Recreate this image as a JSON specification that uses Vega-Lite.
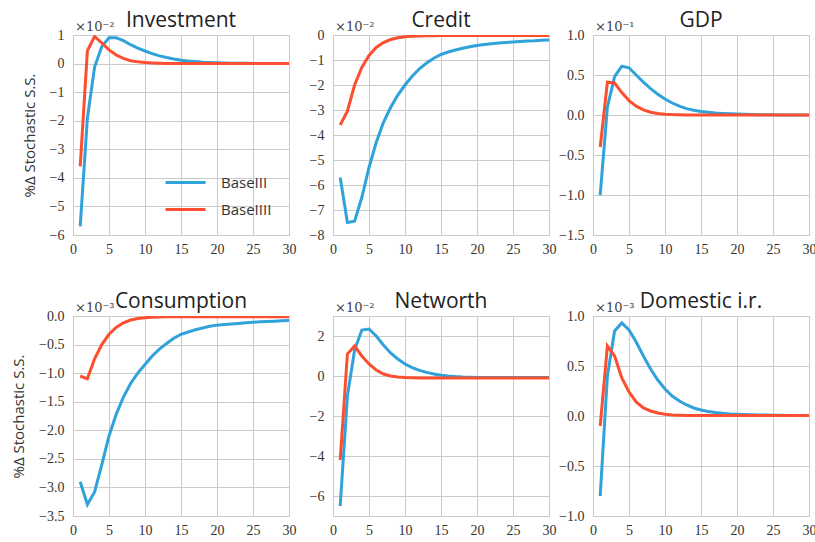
{
  "$schema": "https://vega.github.io/schema/vega-lite/v6.json",
  "padding": {"left": 11, "top": 9, "right": 5, "bottom": 2},
  "background": "white",
  "datasets": {
    "irf": [
      {"panel":"Investment","series":"BaseIII","t":1,"v":-5.7},{"panel":"Investment","series":"BaseIII","t":2,"v":-1.9},{"panel":"Investment","series":"BaseIII","t":3,"v":-0.12},{"panel":"Investment","series":"BaseIII","t":4,"v":0.6},{"panel":"Investment","series":"BaseIII","t":5,"v":0.9},{"panel":"Investment","series":"BaseIII","t":6,"v":0.9},{"panel":"Investment","series":"BaseIII","t":7,"v":0.8},{"panel":"Investment","series":"BaseIII","t":8,"v":0.66},{"panel":"Investment","series":"BaseIII","t":9,"v":0.54},{"panel":"Investment","series":"BaseIII","t":10,"v":0.44},{"panel":"Investment","series":"BaseIII","t":11,"v":0.35},{"panel":"Investment","series":"BaseIII","t":12,"v":0.27},{"panel":"Investment","series":"BaseIII","t":13,"v":0.21},{"panel":"Investment","series":"BaseIII","t":14,"v":0.16},{"panel":"Investment","series":"BaseIII","t":15,"v":0.12},{"panel":"Investment","series":"BaseIII","t":16,"v":0.09},{"panel":"Investment","series":"BaseIII","t":17,"v":0.07},{"panel":"Investment","series":"BaseIII","t":18,"v":0.05},{"panel":"Investment","series":"BaseIII","t":19,"v":0.04},{"panel":"Investment","series":"BaseIII","t":20,"v":0.03},{"panel":"Investment","series":"BaseIII","t":21,"v":0.02},{"panel":"Investment","series":"BaseIII","t":22,"v":0.015},{"panel":"Investment","series":"BaseIII","t":23,"v":0.01},{"panel":"Investment","series":"BaseIII","t":24,"v":0.008},{"panel":"Investment","series":"BaseIII","t":25,"v":0.006},{"panel":"Investment","series":"BaseIII","t":26,"v":0.004},{"panel":"Investment","series":"BaseIII","t":27,"v":0.003},{"panel":"Investment","series":"BaseIII","t":28,"v":0.002},{"panel":"Investment","series":"BaseIII","t":29,"v":0.001},{"panel":"Investment","series":"BaseIII","t":30,"v":0.0},
      {"panel":"Investment","series":"BaseIIII","t":1,"v":-3.6},{"panel":"Investment","series":"BaseIIII","t":2,"v":0.45},{"panel":"Investment","series":"BaseIIII","t":3,"v":0.95},{"panel":"Investment","series":"BaseIIII","t":4,"v":0.72},{"panel":"Investment","series":"BaseIIII","t":5,"v":0.48},{"panel":"Investment","series":"BaseIIII","t":6,"v":0.3},{"panel":"Investment","series":"BaseIIII","t":7,"v":0.18},{"panel":"Investment","series":"BaseIIII","t":8,"v":0.1},{"panel":"Investment","series":"BaseIIII","t":9,"v":0.06},{"panel":"Investment","series":"BaseIIII","t":10,"v":0.035},{"panel":"Investment","series":"BaseIIII","t":11,"v":0.02},{"panel":"Investment","series":"BaseIIII","t":12,"v":0.01},{"panel":"Investment","series":"BaseIIII","t":13,"v":0.005},{"panel":"Investment","series":"BaseIIII","t":14,"v":0.0},{"panel":"Investment","series":"BaseIIII","t":15,"v":0.0},{"panel":"Investment","series":"BaseIIII","t":16,"v":0.0},{"panel":"Investment","series":"BaseIIII","t":17,"v":0.0},{"panel":"Investment","series":"BaseIIII","t":18,"v":0.0},{"panel":"Investment","series":"BaseIIII","t":19,"v":0.0},{"panel":"Investment","series":"BaseIIII","t":20,"v":0.0},{"panel":"Investment","series":"BaseIIII","t":21,"v":0.0},{"panel":"Investment","series":"BaseIIII","t":22,"v":0.0},{"panel":"Investment","series":"BaseIIII","t":23,"v":0.0},{"panel":"Investment","series":"BaseIIII","t":24,"v":0.0},{"panel":"Investment","series":"BaseIIII","t":25,"v":0.0},{"panel":"Investment","series":"BaseIIII","t":26,"v":0.0},{"panel":"Investment","series":"BaseIIII","t":27,"v":0.0},{"panel":"Investment","series":"BaseIIII","t":28,"v":0.0},{"panel":"Investment","series":"BaseIIII","t":29,"v":0.0},{"panel":"Investment","series":"BaseIIII","t":30,"v":0.0},

      {"panel":"Credit","series":"BaseIII","t":1,"v":-5.7},{"panel":"Credit","series":"BaseIII","t":2,"v":-7.5},{"panel":"Credit","series":"BaseIII","t":3,"v":-7.45},{"panel":"Credit","series":"BaseIII","t":4,"v":-6.5},{"panel":"Credit","series":"BaseIII","t":5,"v":-5.3},{"panel":"Credit","series":"BaseIII","t":6,"v":-4.3},{"panel":"Credit","series":"BaseIII","t":7,"v":-3.5},{"panel":"Credit","series":"BaseIII","t":8,"v":-2.9},{"panel":"Credit","series":"BaseIII","t":9,"v":-2.4},{"panel":"Credit","series":"BaseIII","t":10,"v":-2.0},{"panel":"Credit","series":"BaseIII","t":11,"v":-1.65},{"panel":"Credit","series":"BaseIII","t":12,"v":-1.35},{"panel":"Credit","series":"BaseIII","t":13,"v":-1.12},{"panel":"Credit","series":"BaseIII","t":14,"v":-0.93},{"panel":"Credit","series":"BaseIII","t":15,"v":-0.78},{"panel":"Credit","series":"BaseIII","t":16,"v":-0.68},{"panel":"Credit","series":"BaseIII","t":17,"v":-0.6},{"panel":"Credit","series":"BaseIII","t":18,"v":-0.53},{"panel":"Credit","series":"BaseIII","t":19,"v":-0.47},{"panel":"Credit","series":"BaseIII","t":20,"v":-0.42},{"panel":"Credit","series":"BaseIII","t":21,"v":-0.38},{"panel":"Credit","series":"BaseIII","t":22,"v":-0.35},{"panel":"Credit","series":"BaseIII","t":23,"v":-0.32},{"panel":"Credit","series":"BaseIII","t":24,"v":-0.3},{"panel":"Credit","series":"BaseIII","t":25,"v":-0.28},{"panel":"Credit","series":"BaseIII","t":26,"v":-0.26},{"panel":"Credit","series":"BaseIII","t":27,"v":-0.24},{"panel":"Credit","series":"BaseIII","t":28,"v":-0.23},{"panel":"Credit","series":"BaseIII","t":29,"v":-0.21},{"panel":"Credit","series":"BaseIII","t":30,"v":-0.2},
      {"panel":"Credit","series":"BaseIIII","t":1,"v":-3.6},{"panel":"Credit","series":"BaseIIII","t":2,"v":-3.05},{"panel":"Credit","series":"BaseIIII","t":3,"v":-2.0},{"panel":"Credit","series":"BaseIIII","t":4,"v":-1.3},{"panel":"Credit","series":"BaseIIII","t":5,"v":-0.82},{"panel":"Credit","series":"BaseIIII","t":6,"v":-0.5},{"panel":"Credit","series":"BaseIIII","t":7,"v":-0.3},{"panel":"Credit","series":"BaseIIII","t":8,"v":-0.18},{"panel":"Credit","series":"BaseIIII","t":9,"v":-0.11},{"panel":"Credit","series":"BaseIIII","t":10,"v":-0.07},{"panel":"Credit","series":"BaseIIII","t":11,"v":-0.05},{"panel":"Credit","series":"BaseIIII","t":12,"v":-0.04},{"panel":"Credit","series":"BaseIIII","t":13,"v":-0.03},{"panel":"Credit","series":"BaseIIII","t":14,"v":-0.03},{"panel":"Credit","series":"BaseIIII","t":15,"v":-0.025},{"panel":"Credit","series":"BaseIIII","t":16,"v":-0.02},{"panel":"Credit","series":"BaseIIII","t":17,"v":-0.02},{"panel":"Credit","series":"BaseIIII","t":18,"v":-0.02},{"panel":"Credit","series":"BaseIIII","t":19,"v":-0.02},{"panel":"Credit","series":"BaseIIII","t":20,"v":-0.02},{"panel":"Credit","series":"BaseIIII","t":21,"v":-0.02},{"panel":"Credit","series":"BaseIIII","t":22,"v":-0.02},{"panel":"Credit","series":"BaseIIII","t":23,"v":-0.02},{"panel":"Credit","series":"BaseIIII","t":24,"v":-0.02},{"panel":"Credit","series":"BaseIIII","t":25,"v":-0.02},{"panel":"Credit","series":"BaseIIII","t":26,"v":-0.02},{"panel":"Credit","series":"BaseIIII","t":27,"v":-0.02},{"panel":"Credit","series":"BaseIIII","t":28,"v":-0.02},{"panel":"Credit","series":"BaseIIII","t":29,"v":-0.02},{"panel":"Credit","series":"BaseIIII","t":30,"v":-0.02},

      {"panel":"GDP","series":"BaseIII","t":1,"v":-1.0},{"panel":"GDP","series":"BaseIII","t":2,"v":0.1},{"panel":"GDP","series":"BaseIII","t":3,"v":0.48},{"panel":"GDP","series":"BaseIII","t":4,"v":0.61},{"panel":"GDP","series":"BaseIII","t":5,"v":0.59},{"panel":"GDP","series":"BaseIII","t":6,"v":0.5},{"panel":"GDP","series":"BaseIII","t":7,"v":0.41},{"panel":"GDP","series":"BaseIII","t":8,"v":0.33},{"panel":"GDP","series":"BaseIII","t":9,"v":0.26},{"panel":"GDP","series":"BaseIII","t":10,"v":0.2},{"panel":"GDP","series":"BaseIII","t":11,"v":0.15},{"panel":"GDP","series":"BaseIII","t":12,"v":0.11},{"panel":"GDP","series":"BaseIII","t":13,"v":0.08},{"panel":"GDP","series":"BaseIII","t":14,"v":0.06},{"panel":"GDP","series":"BaseIII","t":15,"v":0.045},{"panel":"GDP","series":"BaseIII","t":16,"v":0.035},{"panel":"GDP","series":"BaseIII","t":17,"v":0.026},{"panel":"GDP","series":"BaseIII","t":18,"v":0.02},{"panel":"GDP","series":"BaseIII","t":19,"v":0.015},{"panel":"GDP","series":"BaseIII","t":20,"v":0.011},{"panel":"GDP","series":"BaseIII","t":21,"v":0.008},{"panel":"GDP","series":"BaseIII","t":22,"v":0.006},{"panel":"GDP","series":"BaseIII","t":23,"v":0.004},{"panel":"GDP","series":"BaseIII","t":24,"v":0.003},{"panel":"GDP","series":"BaseIII","t":25,"v":0.002},{"panel":"GDP","series":"BaseIII","t":26,"v":0.001},{"panel":"GDP","series":"BaseIII","t":27,"v":0.001},{"panel":"GDP","series":"BaseIII","t":28,"v":0.0},{"panel":"GDP","series":"BaseIII","t":29,"v":0.0},{"panel":"GDP","series":"BaseIII","t":30,"v":0.0},
      {"panel":"GDP","series":"BaseIIII","t":1,"v":-0.4},{"panel":"GDP","series":"BaseIIII","t":2,"v":0.41},{"panel":"GDP","series":"BaseIIII","t":3,"v":0.4},{"panel":"GDP","series":"BaseIIII","t":4,"v":0.28},{"panel":"GDP","series":"BaseIIII","t":5,"v":0.18},{"panel":"GDP","series":"BaseIIII","t":6,"v":0.11},{"panel":"GDP","series":"BaseIIII","t":7,"v":0.065},{"panel":"GDP","series":"BaseIIII","t":8,"v":0.035},{"panel":"GDP","series":"BaseIIII","t":9,"v":0.02},{"panel":"GDP","series":"BaseIIII","t":10,"v":0.01},{"panel":"GDP","series":"BaseIIII","t":11,"v":0.005},{"panel":"GDP","series":"BaseIIII","t":12,"v":0.002},{"panel":"GDP","series":"BaseIIII","t":13,"v":0.0},{"panel":"GDP","series":"BaseIIII","t":14,"v":0.0},{"panel":"GDP","series":"BaseIIII","t":15,"v":0.0},{"panel":"GDP","series":"BaseIIII","t":16,"v":0.0},{"panel":"GDP","series":"BaseIIII","t":17,"v":0.0},{"panel":"GDP","series":"BaseIIII","t":18,"v":0.0},{"panel":"GDP","series":"BaseIIII","t":19,"v":0.0},{"panel":"GDP","series":"BaseIIII","t":20,"v":0.0},{"panel":"GDP","series":"BaseIIII","t":21,"v":0.0},{"panel":"GDP","series":"BaseIIII","t":22,"v":0.0},{"panel":"GDP","series":"BaseIIII","t":23,"v":0.0},{"panel":"GDP","series":"BaseIIII","t":24,"v":0.0},{"panel":"GDP","series":"BaseIIII","t":25,"v":0.0},{"panel":"GDP","series":"BaseIIII","t":26,"v":0.0},{"panel":"GDP","series":"BaseIIII","t":27,"v":0.0},{"panel":"GDP","series":"BaseIIII","t":28,"v":0.0},{"panel":"GDP","series":"BaseIIII","t":29,"v":0.0},{"panel":"GDP","series":"BaseIIII","t":30,"v":0.0},

      {"panel":"Consumption","series":"BaseIII","t":1,"v":-2.9},{"panel":"Consumption","series":"BaseIII","t":2,"v":-3.3},{"panel":"Consumption","series":"BaseIII","t":3,"v":-3.08},{"panel":"Consumption","series":"BaseIII","t":4,"v":-2.6},{"panel":"Consumption","series":"BaseIII","t":5,"v":-2.1},{"panel":"Consumption","series":"BaseIII","t":6,"v":-1.72},{"panel":"Consumption","series":"BaseIII","t":7,"v":-1.42},{"panel":"Consumption","series":"BaseIII","t":8,"v":-1.18},{"panel":"Consumption","series":"BaseIII","t":9,"v":-1.0},{"panel":"Consumption","series":"BaseIII","t":10,"v":-0.85},{"panel":"Consumption","series":"BaseIII","t":11,"v":-0.7},{"panel":"Consumption","series":"BaseIII","t":12,"v":-0.58},{"panel":"Consumption","series":"BaseIII","t":13,"v":-0.48},{"panel":"Consumption","series":"BaseIII","t":14,"v":-0.39},{"panel":"Consumption","series":"BaseIII","t":15,"v":-0.32},{"panel":"Consumption","series":"BaseIII","t":16,"v":-0.28},{"panel":"Consumption","series":"BaseIII","t":17,"v":-0.24},{"panel":"Consumption","series":"BaseIII","t":18,"v":-0.21},{"panel":"Consumption","series":"BaseIII","t":19,"v":-0.18},{"panel":"Consumption","series":"BaseIII","t":20,"v":-0.16},{"panel":"Consumption","series":"BaseIII","t":21,"v":-0.15},{"panel":"Consumption","series":"BaseIII","t":22,"v":-0.14},{"panel":"Consumption","series":"BaseIII","t":23,"v":-0.13},{"panel":"Consumption","series":"BaseIII","t":24,"v":-0.12},{"panel":"Consumption","series":"BaseIII","t":25,"v":-0.11},{"panel":"Consumption","series":"BaseIII","t":26,"v":-0.1},{"panel":"Consumption","series":"BaseIII","t":27,"v":-0.095},{"panel":"Consumption","series":"BaseIII","t":28,"v":-0.09},{"panel":"Consumption","series":"BaseIII","t":29,"v":-0.085},{"panel":"Consumption","series":"BaseIII","t":30,"v":-0.08},
      {"panel":"Consumption","series":"BaseIIII","t":1,"v":-1.05},{"panel":"Consumption","series":"BaseIIII","t":2,"v":-1.1},{"panel":"Consumption","series":"BaseIIII","t":3,"v":-0.75},{"panel":"Consumption","series":"BaseIIII","t":4,"v":-0.5},{"panel":"Consumption","series":"BaseIIII","t":5,"v":-0.32},{"panel":"Consumption","series":"BaseIIII","t":6,"v":-0.2},{"panel":"Consumption","series":"BaseIIII","t":7,"v":-0.12},{"panel":"Consumption","series":"BaseIIII","t":8,"v":-0.07},{"panel":"Consumption","series":"BaseIIII","t":9,"v":-0.045},{"panel":"Consumption","series":"BaseIIII","t":10,"v":-0.03},{"panel":"Consumption","series":"BaseIIII","t":11,"v":-0.02},{"panel":"Consumption","series":"BaseIIII","t":12,"v":-0.016},{"panel":"Consumption","series":"BaseIIII","t":13,"v":-0.015},{"panel":"Consumption","series":"BaseIIII","t":14,"v":-0.015},{"panel":"Consumption","series":"BaseIIII","t":15,"v":-0.015},{"panel":"Consumption","series":"BaseIIII","t":16,"v":-0.015},{"panel":"Consumption","series":"BaseIIII","t":17,"v":-0.015},{"panel":"Consumption","series":"BaseIIII","t":18,"v":-0.015},{"panel":"Consumption","series":"BaseIIII","t":19,"v":-0.015},{"panel":"Consumption","series":"BaseIIII","t":20,"v":-0.015},{"panel":"Consumption","series":"BaseIIII","t":21,"v":-0.015},{"panel":"Consumption","series":"BaseIIII","t":22,"v":-0.015},{"panel":"Consumption","series":"BaseIIII","t":23,"v":-0.015},{"panel":"Consumption","series":"BaseIIII","t":24,"v":-0.015},{"panel":"Consumption","series":"BaseIIII","t":25,"v":-0.015},{"panel":"Consumption","series":"BaseIIII","t":26,"v":-0.015},{"panel":"Consumption","series":"BaseIIII","t":27,"v":-0.015},{"panel":"Consumption","series":"BaseIIII","t":28,"v":-0.015},{"panel":"Consumption","series":"BaseIIII","t":29,"v":-0.015},{"panel":"Consumption","series":"BaseIIII","t":30,"v":-0.015},

      {"panel":"Networth","series":"BaseIII","t":1,"v":-6.5},{"panel":"Networth","series":"BaseIII","t":2,"v":-1.0},{"panel":"Networth","series":"BaseIII","t":3,"v":1.3},{"panel":"Networth","series":"BaseIII","t":4,"v":2.3},{"panel":"Networth","series":"BaseIII","t":5,"v":2.35},{"panel":"Networth","series":"BaseIII","t":6,"v":2.0},{"panel":"Networth","series":"BaseIII","t":7,"v":1.55},{"panel":"Networth","series":"BaseIII","t":8,"v":1.15},{"panel":"Networth","series":"BaseIII","t":9,"v":0.85},{"panel":"Networth","series":"BaseIII","t":10,"v":0.6},{"panel":"Networth","series":"BaseIII","t":11,"v":0.42},{"panel":"Networth","series":"BaseIII","t":12,"v":0.28},{"panel":"Networth","series":"BaseIII","t":13,"v":0.18},{"panel":"Networth","series":"BaseIII","t":14,"v":0.1},{"panel":"Networth","series":"BaseIII","t":15,"v":0.04},{"panel":"Networth","series":"BaseIII","t":16,"v":0.0},{"panel":"Networth","series":"BaseIII","t":17,"v":-0.03},{"panel":"Networth","series":"BaseIII","t":18,"v":-0.05},{"panel":"Networth","series":"BaseIII","t":19,"v":-0.06},{"panel":"Networth","series":"BaseIII","t":20,"v":-0.07},{"panel":"Networth","series":"BaseIII","t":21,"v":-0.08},{"panel":"Networth","series":"BaseIII","t":22,"v":-0.08},{"panel":"Networth","series":"BaseIII","t":23,"v":-0.08},{"panel":"Networth","series":"BaseIII","t":24,"v":-0.08},{"panel":"Networth","series":"BaseIII","t":25,"v":-0.08},{"panel":"Networth","series":"BaseIII","t":26,"v":-0.08},{"panel":"Networth","series":"BaseIII","t":27,"v":-0.08},{"panel":"Networth","series":"BaseIII","t":28,"v":-0.08},{"panel":"Networth","series":"BaseIII","t":29,"v":-0.08},{"panel":"Networth","series":"BaseIII","t":30,"v":-0.08},
      {"panel":"Networth","series":"BaseIIII","t":1,"v":-4.2},{"panel":"Networth","series":"BaseIIII","t":2,"v":1.1},{"panel":"Networth","series":"BaseIIII","t":3,"v":1.5},{"panel":"Networth","series":"BaseIIII","t":4,"v":1.0},{"panel":"Networth","series":"BaseIIII","t":5,"v":0.6},{"panel":"Networth","series":"BaseIIII","t":6,"v":0.3},{"panel":"Networth","series":"BaseIIII","t":7,"v":0.1},{"panel":"Networth","series":"BaseIIII","t":8,"v":0.0},{"panel":"Networth","series":"BaseIIII","t":9,"v":-0.05},{"panel":"Networth","series":"BaseIIII","t":10,"v":-0.08},{"panel":"Networth","series":"BaseIIII","t":11,"v":-0.09},{"panel":"Networth","series":"BaseIIII","t":12,"v":-0.1},{"panel":"Networth","series":"BaseIIII","t":13,"v":-0.1},{"panel":"Networth","series":"BaseIIII","t":14,"v":-0.1},{"panel":"Networth","series":"BaseIIII","t":15,"v":-0.1},{"panel":"Networth","series":"BaseIIII","t":16,"v":-0.1},{"panel":"Networth","series":"BaseIIII","t":17,"v":-0.1},{"panel":"Networth","series":"BaseIIII","t":18,"v":-0.1},{"panel":"Networth","series":"BaseIIII","t":19,"v":-0.1},{"panel":"Networth","series":"BaseIIII","t":20,"v":-0.1},{"panel":"Networth","series":"BaseIIII","t":21,"v":-0.1},{"panel":"Networth","series":"BaseIIII","t":22,"v":-0.1},{"panel":"Networth","series":"BaseIIII","t":23,"v":-0.1},{"panel":"Networth","series":"BaseIIII","t":24,"v":-0.1},{"panel":"Networth","series":"BaseIIII","t":25,"v":-0.1},{"panel":"Networth","series":"BaseIIII","t":26,"v":-0.1},{"panel":"Networth","series":"BaseIIII","t":27,"v":-0.1},{"panel":"Networth","series":"BaseIIII","t":28,"v":-0.1},{"panel":"Networth","series":"BaseIIII","t":29,"v":-0.1},{"panel":"Networth","series":"BaseIIII","t":30,"v":-0.1},

      {"panel":"Domestic i.r.","series":"BaseIII","t":1,"v":-0.8},{"panel":"Domestic i.r.","series":"BaseIII","t":2,"v":0.4},{"panel":"Domestic i.r.","series":"BaseIII","t":3,"v":0.85},{"panel":"Domestic i.r.","series":"BaseIII","t":4,"v":0.93},{"panel":"Domestic i.r.","series":"BaseIII","t":5,"v":0.86},{"panel":"Domestic i.r.","series":"BaseIII","t":6,"v":0.74},{"panel":"Domestic i.r.","series":"BaseIII","t":7,"v":0.6},{"panel":"Domestic i.r.","series":"BaseIII","t":8,"v":0.47},{"panel":"Domestic i.r.","series":"BaseIII","t":9,"v":0.36},{"panel":"Domestic i.r.","series":"BaseIII","t":10,"v":0.27},{"panel":"Domestic i.r.","series":"BaseIII","t":11,"v":0.2},{"panel":"Domestic i.r.","series":"BaseIII","t":12,"v":0.15},{"panel":"Domestic i.r.","series":"BaseIII","t":13,"v":0.11},{"panel":"Domestic i.r.","series":"BaseIII","t":14,"v":0.08},{"panel":"Domestic i.r.","series":"BaseIII","t":15,"v":0.06},{"panel":"Domestic i.r.","series":"BaseIII","t":16,"v":0.045},{"panel":"Domestic i.r.","series":"BaseIII","t":17,"v":0.035},{"panel":"Domestic i.r.","series":"BaseIII","t":18,"v":0.027},{"panel":"Domestic i.r.","series":"BaseIII","t":19,"v":0.021},{"panel":"Domestic i.r.","series":"BaseIII","t":20,"v":0.017},{"panel":"Domestic i.r.","series":"BaseIII","t":21,"v":0.014},{"panel":"Domestic i.r.","series":"BaseIII","t":22,"v":0.012},{"panel":"Domestic i.r.","series":"BaseIII","t":23,"v":0.01},{"panel":"Domestic i.r.","series":"BaseIII","t":24,"v":0.009},{"panel":"Domestic i.r.","series":"BaseIII","t":25,"v":0.008},{"panel":"Domestic i.r.","series":"BaseIII","t":26,"v":0.007},{"panel":"Domestic i.r.","series":"BaseIII","t":27,"v":0.006},{"panel":"Domestic i.r.","series":"BaseIII","t":28,"v":0.006},{"panel":"Domestic i.r.","series":"BaseIII","t":29,"v":0.005},{"panel":"Domestic i.r.","series":"BaseIII","t":30,"v":0.005},
      {"panel":"Domestic i.r.","series":"BaseIIII","t":1,"v":-0.1},{"panel":"Domestic i.r.","series":"BaseIIII","t":2,"v":0.7},{"panel":"Domestic i.r.","series":"BaseIIII","t":3,"v":0.6},{"panel":"Domestic i.r.","series":"BaseIIII","t":4,"v":0.38},{"panel":"Domestic i.r.","series":"BaseIIII","t":5,"v":0.24},{"panel":"Domestic i.r.","series":"BaseIIII","t":6,"v":0.14},{"panel":"Domestic i.r.","series":"BaseIIII","t":7,"v":0.08},{"panel":"Domestic i.r.","series":"BaseIIII","t":8,"v":0.05},{"panel":"Domestic i.r.","series":"BaseIIII","t":9,"v":0.03},{"panel":"Domestic i.r.","series":"BaseIIII","t":10,"v":0.017},{"panel":"Domestic i.r.","series":"BaseIIII","t":11,"v":0.01},{"panel":"Domestic i.r.","series":"BaseIIII","t":12,"v":0.007},{"panel":"Domestic i.r.","series":"BaseIIII","t":13,"v":0.005},{"panel":"Domestic i.r.","series":"BaseIIII","t":14,"v":0.005},{"panel":"Domestic i.r.","series":"BaseIIII","t":15,"v":0.005},{"panel":"Domestic i.r.","series":"BaseIIII","t":16,"v":0.005},{"panel":"Domestic i.r.","series":"BaseIIII","t":17,"v":0.005},{"panel":"Domestic i.r.","series":"BaseIIII","t":18,"v":0.005},{"panel":"Domestic i.r.","series":"BaseIIII","t":19,"v":0.005},{"panel":"Domestic i.r.","series":"BaseIIII","t":20,"v":0.005},{"panel":"Domestic i.r.","series":"BaseIIII","t":21,"v":0.005},{"panel":"Domestic i.r.","series":"BaseIIII","t":22,"v":0.005},{"panel":"Domestic i.r.","series":"BaseIIII","t":23,"v":0.005},{"panel":"Domestic i.r.","series":"BaseIIII","t":24,"v":0.005},{"panel":"Domestic i.r.","series":"BaseIIII","t":25,"v":0.005},{"panel":"Domestic i.r.","series":"BaseIIII","t":26,"v":0.005},{"panel":"Domestic i.r.","series":"BaseIIII","t":27,"v":0.005},{"panel":"Domestic i.r.","series":"BaseIIII","t":28,"v":0.005},{"panel":"Domestic i.r.","series":"BaseIIII","t":29,"v":0.005},{"panel":"Domestic i.r.","series":"BaseIIII","t":30,"v":0.005}
    ],
    "mult": [
      {"panel":"Investment","label":"×10⁻²","t":0,"v":1},
      {"panel":"Credit","label":"×10⁻²","t":0,"v":0},
      {"panel":"GDP","label":"×10⁻¹","t":0,"v":1},
      {"panel":"Consumption","label":"×10⁻³","t":0,"v":0},
      {"panel":"Networth","label":"×10⁻²","t":0,"v":3},
      {"panel":"Domestic i.r.","label":"×10⁻³","t":0,"v":1}
    ]
  },
  "columns": 3,
  "spacing": {"row": 81, "column": 44},
  "bounds": "flush",
  "resolve": {"scale": {"y": "independent"}, "legend": {"color": "independent"}},
  "concat": [
    {
      "title": {"text": "Investment", "offset": -10}, "width": 216, "height": 200,
      "encoding": {
        "x": {"field": "t", "type": "quantitative", "scale": {"domain": [0, 30], "nice": false}, "axis": {"values": [0,5,10,15,20,25,30], "title": null, "labelOverlap": false, "labelFont": "Liberation Serif", "labelFontSize": 14, "labelColor": "#333333", "labelPadding": 7, "labelFlush": false, "ticks": false, "domain": false}},
        "y": {"field": "v", "type": "quantitative", "scale": {"domain": [-6, 1], "nice": false, "zero": false}, "axis": {"values": [-6,-5,-4,-3,-2,-1,0,1], "format": "d", "title": "%Δ Stochastic S.S.", "labelOverlap": false, "labelFont": "Liberation Serif", "labelFontSize": 14, "labelColor": "#333333", "labelPadding": 9, "labelFlush": false, "ticks": false, "domain": false, "titleFont": "Open Sans", "titleFontSize": 15, "titleFontWeight": "normal", "titleColor": "#333333", "titlePadding": 12}}
      },
      "layer": [
        {"data": {"name": "mult"}, "transform": [{"filter": "datum.panel === 'Investment'"}],
         "mark": {"type": "text", "align": "left", "baseline": "alphabetic", "dx": 2, "dy": -4, "fontSize": 13, "font": "DejaVu Serif", "color": "#444444"},
         "encoding": {"text": {"field": "label"}}},
        {"data": {"name": "irf"}, "transform": [{"filter": "datum.panel === 'Investment'"}],
         "mark": {"type": "line", "strokeWidth": 3, "clip": true},
         "encoding": {
           "color": {"field": "series", "type": "nominal", "scale": {"domain": ["BaseIII", "BaseIIII"], "range": ["#30a2da", "#fc4f30"]},
             "legend": {"title": null, "orient": "none", "legendX": 105, "legendY": 140, "symbolType": "M-4,0H4", "symbolSize": 100, "symbolStrokeWidth": 3, "labelFontSize": 15, "labelFont": "Open Sans", "labelColor": "#333333", "rowPadding": 11, "labelOffset": 28}}
         }}
      ]
    },
    {
      "title": {"text": "Credit", "offset": -10}, "width": 216, "height": 200,
      "encoding": {
        "x": {"field": "t", "type": "quantitative", "scale": {"domain": [0, 30], "nice": false}, "axis": {"values": [0,5,10,15,20,25,30], "title": null, "labelOverlap": false, "labelFont": "Liberation Serif", "labelFontSize": 14, "labelColor": "#333333", "labelPadding": 7, "labelFlush": false, "ticks": false, "domain": false}},
        "y": {"field": "v", "type": "quantitative", "scale": {"domain": [-8, 0], "nice": false, "zero": false}, "axis": {"values": [-8,-7,-6,-5,-4,-3,-2,-1,0], "format": "d", "title": null, "labelOverlap": false, "labelFont": "Liberation Serif", "labelFontSize": 14, "labelColor": "#333333", "labelPadding": 9, "labelFlush": false, "ticks": false, "domain": false}}
      },
      "layer": [
        {"data": {"name": "mult"}, "transform": [{"filter": "datum.panel === 'Credit'"}],
         "mark": {"type": "text", "align": "left", "baseline": "alphabetic", "dx": 2, "dy": -4, "fontSize": 13, "font": "DejaVu Serif", "color": "#444444"},
         "encoding": {"text": {"field": "label"}}},
        {"data": {"name": "irf"}, "transform": [{"filter": "datum.panel === 'Credit'"}],
         "mark": {"type": "line", "strokeWidth": 3, "clip": true},
         "encoding": {"color": {"field": "series", "type": "nominal", "scale": {"domain": ["BaseIII", "BaseIIII"], "range": ["#30a2da", "#fc4f30"]}, "legend": null}}}
      ]
    },
    {
      "title": {"text": "GDP", "offset": -10}, "width": 216, "height": 200,
      "encoding": {
        "x": {"field": "t", "type": "quantitative", "scale": {"domain": [0, 30], "nice": false}, "axis": {"values": [0,5,10,15,20,25,30], "title": null, "labelOverlap": false, "labelFont": "Liberation Serif", "labelFontSize": 14, "labelColor": "#333333", "labelPadding": 7, "labelFlush": false, "ticks": false, "domain": false}},
        "y": {"field": "v", "type": "quantitative", "scale": {"domain": [-1.5, 1.0], "nice": false, "zero": false}, "axis": {"values": [-1.5,-1.0,-0.5,0,0.5,1.0], "format": ".1f", "title": null, "labelOverlap": false, "labelFont": "Liberation Serif", "labelFontSize": 14, "labelColor": "#333333", "labelPadding": 9, "labelFlush": false, "ticks": false, "domain": false}}
      },
      "layer": [
        {"data": {"name": "mult"}, "transform": [{"filter": "datum.panel === 'GDP'"}],
         "mark": {"type": "text", "align": "left", "baseline": "alphabetic", "dx": 2, "dy": -4, "fontSize": 13, "font": "DejaVu Serif", "color": "#444444"},
         "encoding": {"text": {"field": "label"}}},
        {"data": {"name": "irf"}, "transform": [{"filter": "datum.panel === 'GDP'"}],
         "mark": {"type": "line", "strokeWidth": 3, "clip": true},
         "encoding": {"color": {"field": "series", "type": "nominal", "scale": {"domain": ["BaseIII", "BaseIIII"], "range": ["#30a2da", "#fc4f30"]}, "legend": null}}}
      ]
    },
    {
      "title": {"text": "Consumption", "offset": -10}, "width": 216, "height": 200,
      "encoding": {
        "x": {"field": "t", "type": "quantitative", "scale": {"domain": [0, 30], "nice": false}, "axis": {"values": [0,5,10,15,20,25,30], "title": null, "labelOverlap": false, "labelFont": "Liberation Serif", "labelFontSize": 14, "labelColor": "#333333", "labelPadding": 7, "labelFlush": false, "ticks": false, "domain": false}},
        "y": {"field": "v", "type": "quantitative", "scale": {"domain": [-3.5, 0], "nice": false, "zero": false}, "axis": {"values": [-3.5,-3.0,-2.5,-2.0,-1.5,-1.0,-0.5,0], "format": ".1f", "title": "%Δ Stochastic S.S.", "labelOverlap": false, "labelFont": "Liberation Serif", "labelFontSize": 14, "labelColor": "#333333", "labelPadding": 9, "labelFlush": false, "ticks": false, "domain": false, "titleFont": "Open Sans", "titleFontSize": 15, "titleFontWeight": "normal", "titleColor": "#333333", "titlePadding": 12}}
      },
      "layer": [
        {"data": {"name": "mult"}, "transform": [{"filter": "datum.panel === 'Consumption'"}],
         "mark": {"type": "text", "align": "left", "baseline": "alphabetic", "dx": 2, "dy": -4, "fontSize": 13, "font": "DejaVu Serif", "color": "#444444"},
         "encoding": {"text": {"field": "label"}}},
        {"data": {"name": "irf"}, "transform": [{"filter": "datum.panel === 'Consumption'"}],
         "mark": {"type": "line", "strokeWidth": 3, "clip": true},
         "encoding": {"color": {"field": "series", "type": "nominal", "scale": {"domain": ["BaseIII", "BaseIIII"], "range": ["#30a2da", "#fc4f30"]}, "legend": null}}}
      ]
    },
    {
      "title": {"text": "Networth", "offset": -10}, "width": 216, "height": 200,
      "encoding": {
        "x": {"field": "t", "type": "quantitative", "scale": {"domain": [0, 30], "nice": false}, "axis": {"values": [0,5,10,15,20,25,30], "title": null, "labelOverlap": false, "labelFont": "Liberation Serif", "labelFontSize": 14, "labelColor": "#333333", "labelPadding": 7, "labelFlush": false, "ticks": false, "domain": false}},
        "y": {"field": "v", "type": "quantitative", "scale": {"domain": [-7, 3], "nice": false, "zero": false}, "axis": {"values": [-6,-4,-2,0,2], "format": "d", "title": null, "labelOverlap": false, "labelFont": "Liberation Serif", "labelFontSize": 14, "labelColor": "#333333", "labelPadding": 9, "labelFlush": false, "ticks": false, "domain": false}}
      },
      "layer": [
        {"data": {"name": "mult"}, "transform": [{"filter": "datum.panel === 'Networth'"}],
         "mark": {"type": "text", "align": "left", "baseline": "alphabetic", "dx": 2, "dy": -4, "fontSize": 13, "font": "DejaVu Serif", "color": "#444444"},
         "encoding": {"text": {"field": "label"}}},
        {"data": {"name": "irf"}, "transform": [{"filter": "datum.panel === 'Networth'"}],
         "mark": {"type": "line", "strokeWidth": 3, "clip": true},
         "encoding": {"color": {"field": "series", "type": "nominal", "scale": {"domain": ["BaseIII", "BaseIIII"], "range": ["#30a2da", "#fc4f30"]}, "legend": null}}}
      ]
    },
    {
      "title": {"text": "Domestic i.r.", "offset": -10}, "width": 216, "height": 200,
      "encoding": {
        "x": {"field": "t", "type": "quantitative", "scale": {"domain": [0, 30], "nice": false}, "axis": {"values": [0,5,10,15,20,25,30], "title": null, "labelOverlap": false, "labelFont": "Liberation Serif", "labelFontSize": 14, "labelColor": "#333333", "labelPadding": 7, "labelFlush": false, "ticks": false, "domain": false}},
        "y": {"field": "v", "type": "quantitative", "scale": {"domain": [-1.0, 1.0], "nice": false, "zero": false}, "axis": {"values": [-1.0,-0.5,0,0.5,1.0], "format": ".1f", "title": null, "labelOverlap": false, "labelFont": "Liberation Serif", "labelFontSize": 14, "labelColor": "#333333", "labelPadding": 9, "labelFlush": false, "ticks": false, "domain": false}}
      },
      "layer": [
        {"data": {"name": "mult"}, "transform": [{"filter": "datum.panel === 'Domestic i.r.'"}],
         "mark": {"type": "text", "align": "left", "baseline": "alphabetic", "dx": 2, "dy": -4, "fontSize": 13, "font": "DejaVu Serif", "color": "#444444"},
         "encoding": {"text": {"field": "label"}}},
        {"data": {"name": "irf"}, "transform": [{"filter": "datum.panel === 'Domestic i.r.'"}],
         "mark": {"type": "line", "strokeWidth": 3, "clip": true},
         "encoding": {"color": {"field": "series", "type": "nominal", "scale": {"domain": ["BaseIII", "BaseIIII"], "range": ["#30a2da", "#fc4f30"]}, "legend": null}}}
      ]
    }
  ],
  "config": {
    "view": {"stroke": "#cbcbcb", "strokeWidth": 1},
    "title": {"fontSize": 21, "font": "Open Sans", "fontWeight": "normal", "color": "#222222", "anchor": "middle", "frame": "group"},
    "axis": {"grid": true, "gridColor": "#cbcbcb", "gridWidth": 1, "domain": false, "ticks": false, "labelOverlap": false, "labelFlush": false, "labelFont": "Liberation Serif", "labelFontSize": 14, "labelColor": "#333333", "titleFont": "Open Sans", "titleFontSize": 15, "titleFontWeight": "normal", "titleColor": "#333333"},
    "axisLeft": {"labelFont": "Liberation Serif", "labelFontSize": 14, "titleFont": "Open Sans", "titleFontSize": 15, "titleFontWeight": "normal"},
    "axisBottom": {"labelFont": "Liberation Serif", "labelFontSize": 14}
  }
}
